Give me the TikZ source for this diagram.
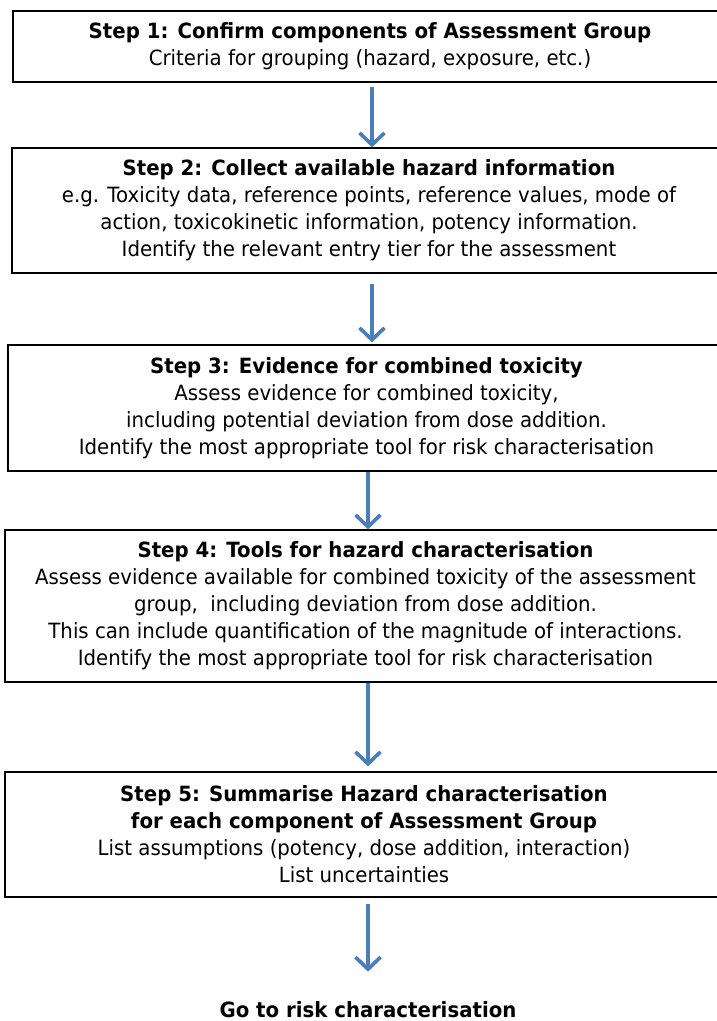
\documentclass[tikz,border=0pt]{standalone}
\usepackage{fontspec}
\setmainfont{DejaVu Sans}[FakeStretch=0.94]
\usepackage{tikz}
\usetikzlibrary{arrows.meta}
\definecolor{flowblue}{RGB}{74,126,187}

\begin{document}
\begin{tikzpicture}[x=1pt,y=-1pt]
\tikzstyle{every node}=[font=\fontsize{21}{27}\selectfont, align=center, inner sep=2pt]
\tikzstyle{stepbox}=[draw, line width=1.3pt]
\tikzstyle{flow}=[draw=flowblue, line width=3.6pt, -{Straight Barb[length=12pt,width=25pt]}]
\useasboundingbox (0,0) rectangle (716,1021);
\coordinate (axisa) at (372,0);
\coordinate (axisb) at (368,0);
\node (s1) [stepbox, minimum width=714pt, minimum height=71pt] at (370,46.5)
  {\textbf{Step 1: Confirm components of Assessment Group}\\
   Criteria for grouping (hazard, exposure, etc.)};
\node (s2) [stepbox, minimum width=714pt, minimum height=125pt] at (369,210.5)
  {\textbf{Step 2: Collect available hazard information}\\
   e.g. Toxicity data, reference points, reference values, mode of\\
   action, toxicokinetic information, potency information.\\
   Identify the relevant entry tier for the assessment};
\node (s3) [stepbox, minimum width=717pt, minimum height=126pt] at (366.5,408)
  {\textbf{Step 3: Evidence for combined toxicity}\\
   Assess evidence for combined toxicity,\\
   including potential deviation from dose addition.\\
   Identify the most appropriate tool for risk characterisation};
\node (s4) [stepbox, minimum width=721pt, minimum height=152pt] at (365.5,606)
  {\textbf{Step 4: Tools for hazard characterisation}\\
   Assess evidence available for combined toxicity of the assessment\\
   group,\ \ including deviation from dose addition.\\
   This can include quantification of the magnitude of interactions.\\
   Identify the most appropriate tool for risk characterisation};
\node (s5) [stepbox, minimum width=718pt, minimum height=125pt] at (364,834.5)
  {\textbf{Step 5: Summarise Hazard characterisation}\\
   \textbf{for each component of Assessment Group}\\
   List assumptions (potency, dose addition, interaction)\\
   List uncertainties};
\node (goal) at (368,1010) {\textbf{Go to risk characterisation}};
\draw[flow, shorten <=4pt] (s1.south -| axisa) -- (s2.north -| axisa);
\draw[flow, shorten <=10pt, shorten >=2pt] (s2.south -| axisa) -- (s3.north -| axisa);
\draw[flow] (s3.south -| axisb) -- (s4.north -| axisb);
\draw[flow, shorten >=5pt] (s4.south -| axisb) -- (s5.north -| axisb);
\draw[flow, shorten <=6pt, shorten >=28pt] (s5.south -| axisb) -- (goal.north -| axisb);
\end{tikzpicture}
\end{document}
